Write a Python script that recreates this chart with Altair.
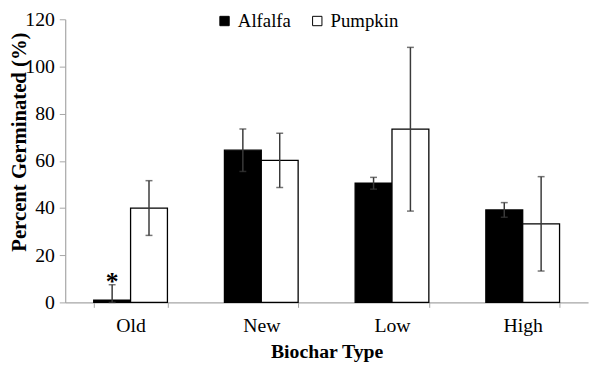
import altair as alt
import pandas as pd

categories = ["Old", "New", "Low", "High"]
series_names = ["Alfalfa", "Pumpkin"]
alfalfa = [1.0, 64.5, 50.5, 39.2]
alfalfa_err = [6.5, 9.0, 2.5, 3.1]
pumpkin = [40.0, 60.2, 73.4, 33.3]
pumpkin_err = [11.6, 11.5, 34.7, 20.0]
y_ticks = [0, 20, 40, 60, 80, 100, 120]
star_category = "Old"
star_series = "Alfalfa"
star_value = 10.5
star_text = "*"

rows = []
for i, c in enumerate(categories):
    for s, vals, errs in (("Alfalfa", alfalfa, alfalfa_err), ("Pumpkin", pumpkin, pumpkin_err)):
        v, e = vals[i], errs[i]
        rows.append({"cat": c, "series": s, "value": v, "lo": max(v - e, 0), "hi": v + e})
df = pd.DataFrame(rows)
star_df = pd.DataFrame([{"cat": star_category, "series": star_series, "value": star_value, "t": star_text}])

FONT = "Liberation Serif"

x = alt.X("cat:N", sort=categories,
          scale=alt.Scale(paddingInner=0.436, paddingOuter=0.218),
          axis=alt.Axis(title="Biochar Type", labelAngle=0, tickBand="extent",
                        tickSize=5, labelPadding=9, titlePadding=6,
                        labelFont=FONT, titleFont=FONT, labelFontSize=20,
                        titleFontSize=20, titleFontWeight="bold"))
xo = alt.XOffset("series:N", sort=series_names, scale=alt.Scale(paddingInner=0, paddingOuter=0))
yscale = alt.Scale(domain=[0, 120], nice=False)

bars = alt.Chart(df).mark_bar(stroke="black", strokeWidth=1.3).encode(
    x=x, xOffset=xo,
    y=alt.Y("value:Q", scale=yscale,
            axis=alt.Axis(title="Percent Germinated (%)", values=y_ticks, tickSize=6,
                          labelPadding=5, labelFont=FONT, titleFont=FONT, labelFontSize=20,
                          titleFontSize=21, titleFontWeight="bold", titleX=-36, titleY=124)),
    fill=alt.Fill("series:N", sort=series_names,
                  scale=alt.Scale(domain=series_names, range=["black", "white"]),
                  legend=alt.Legend(title=None, orient="none", direction="horizontal",
                                    legendX=152, legendY=-8, symbolType="square",
                                    symbolSize=90, symbolStrokeColor="black",
                                    symbolStrokeWidth=1, labelFontSize=19, labelFont=FONT,
                                    labelOffset=4, columnPadding=17, padding=0)),
)

rules = alt.Chart(df).mark_rule(color="#3a3a3a", strokeWidth=1.5).encode(
    x=x, xOffset=xo, y=alt.Y("lo:Q", scale=yscale), y2="hi:Q")
caps_hi = alt.Chart(df).mark_tick(color="#3a3a3a", thickness=1.5, size=7).encode(
    x=x, xOffset=xo, y=alt.Y("hi:Q", scale=yscale))
caps_lo = alt.Chart(df).mark_tick(color="#3a3a3a", thickness=1.5, size=7).encode(
    x=x, xOffset=xo, y=alt.Y("lo:Q", scale=yscale))
star = alt.Chart(star_df).mark_text(font=FONT, fontSize=26, fontWeight="bold",
                                    baseline="middle", dy=5).encode(
    x=x, xOffset=xo, y=alt.Y("value:Q", scale=yscale), text="t:N")

chart = alt.layer(bars, rules, caps_hi, caps_lo, star).properties(
    width=530, height=287,
    autosize=alt.AutoSizeParams(type="none"),
    padding={"left": 58, "top": 9, "right": 4, "bottom": 60},
).configure_view(stroke=None).configure_axis(
    grid=False, domainColor="#a6a6a6", tickColor="#a6a6a6", domainWidth=1.2,
    labelColor="black", titleColor="black",
)

chart.save("out.html", embed_options={"renderer": "svg", "actions": False})
